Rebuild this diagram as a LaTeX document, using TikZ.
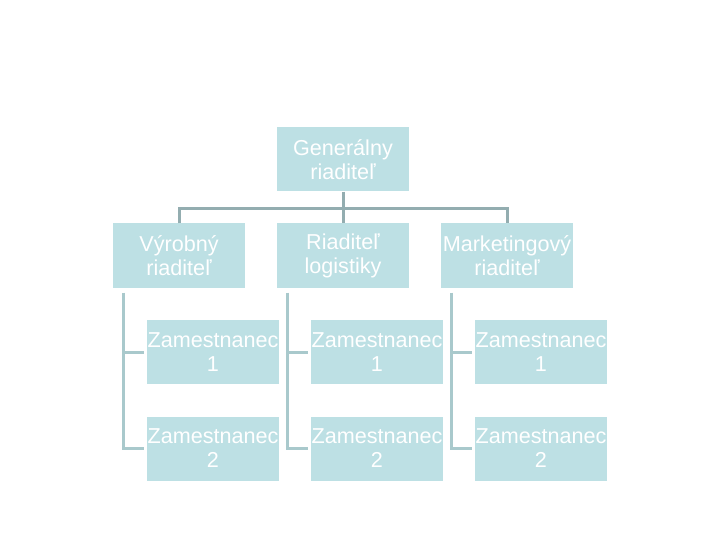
\documentclass[tikz,border=0pt]{standalone}
\usepackage{fontspec}
\setmainfont{Liberation Sans}
\definecolor{boxfill}{HTML}{BDE0E4}
\definecolor{topline}{HTML}{93ADB0}
\definecolor{subline}{HTML}{A9C9CC}
\tikzset{
  orgbox/.style={fill=boxfill, draw=none, minimum width=132pt, minimum height=64pt,
    inner sep=0pt, align=center, text=white,
    font=\fontsize{21.6}{24}\selectfont},
  topconn/.style={draw=topline, line width=3pt},
  subconn/.style={draw=subline, line width=3pt}
}
\begin{document}
\begin{tikzpicture}[x=1pt,y=-1pt]
\useasboundingbox (0,0) rectangle (720,540);
% boxes
\node[orgbox] (gen) at (343,159.5) {Generálny\\riaditeľ};
\node[orgbox] (vyr) at (179,255.5) {Výrobný\\riaditeľ};
\node[orgbox] (log) at (343,255.5) {Riaditeľ\\logistiky};
\node[orgbox] (mkt) at (507,255.5) {Marketingový\\riaditeľ};
\node[orgbox] (z11) at (213,352) {Zamestnanec\\1};
\node[orgbox] (z12) at (213,448.5) {Zamestnanec\\2};
\node[orgbox] (z21) at (377,352) {Zamestnanec\\1};
\node[orgbox] (z22) at (377,448.5) {Zamestnanec\\2};
\node[orgbox] (z31) at (541,352) {Zamestnanec\\1};
\node[orgbox] (z32) at (541,448.5) {Zamestnanec\\2};
% top connectors
\draw[topconn] (gen.south) -- (log.north);
\draw[topconn] (vyr.north) -- ++(0,-15) -| (mkt.north);
% sub connectors
\foreach \m/\a/\b in {vyr/z11/z12, log/z21/z22, mkt/z31/z32}{
  \draw[subconn] ([xshift=11pt,yshift=-5pt]\m.south west) |- ([xshift=-3pt]\b.west);
  \draw[subconn] ([xshift=11pt]\m.south west |- \a.west) -- ([xshift=-3pt]\a.west);
}
\end{tikzpicture}
\end{document}
